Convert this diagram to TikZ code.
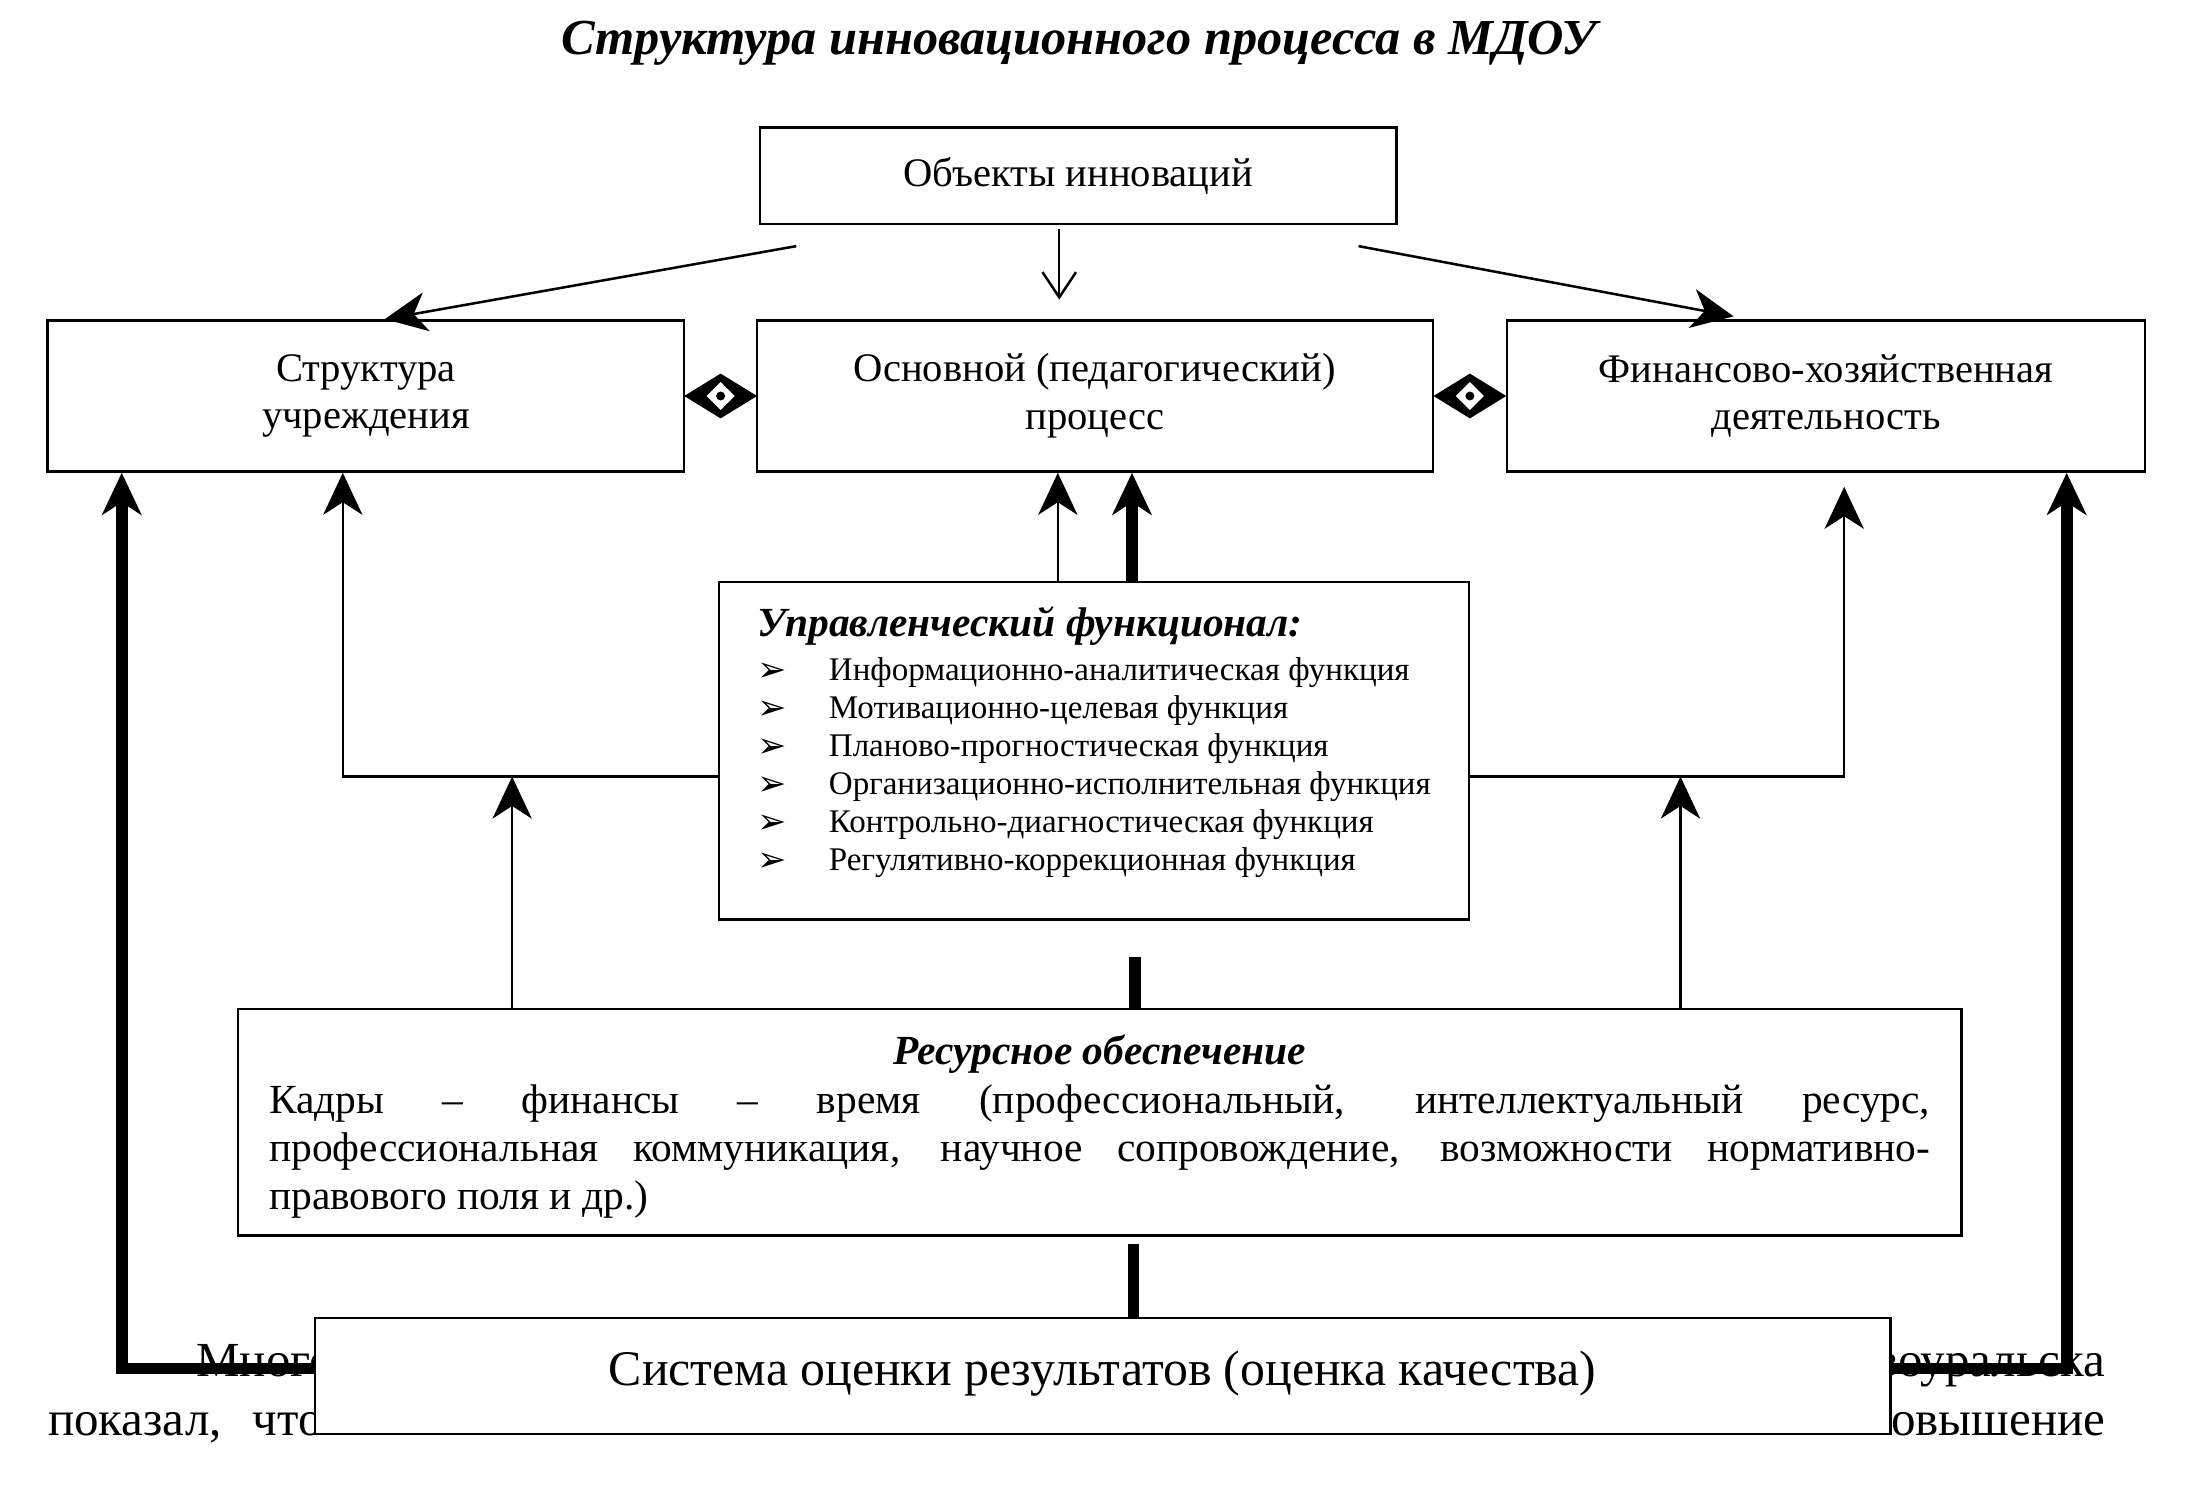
\documentclass[tikz,border=0pt]{standalone}
\usepackage{fontspec}
\setmainfont{Liberation Serif}
\newfontfamily\symfont{DejaVu Sans}
\usetikzlibrary{arrows.meta,calc}

\newcommand\fsz[2]{\fontsize{#1}{#2}\selectfont}
\newcommand\funcitem[1]{\makebox[25.5pt][l]{\raisebox{-0.3pt}{\symfont\fsz{12.5}{12.5}➢}}#1}

\begin{document}
\begin{tikzpicture}[x=0.5pt,y=-0.5pt,
  box/.style={draw,line width=0.9pt,fill=white,align=center,inner sep=0pt,font=\fsz{14.5}{17}},
  thin arrow/.style={line width=0.9pt,-{Stealth[length=15pt,width=14pt,inset=4.5pt]}},
  barb arrow/.style={line width=0.9pt,-{Straight Barb[length=9pt,width=12pt]}},
  thick arrow/.style={line width=4.2pt,-{Stealth[length=15pt,width=14pt,inset=4.5pt]}},
  thick line/.style={line width=4.2pt},
  fragment/.style={inner sep=0pt,font=\fsz{17.5}{20}},
  linkmark/.pic={
    \fill (-26,0) -- (0,-16) -- (26,0) -- (0,16) -- cycle;
    \fill[white] (-10,0) -- (0,-10) -- (10,0) -- (0,10) -- cycle;
    \fill (0,0) circle (1.6pt);
  }]
  \useasboundingbox (0,0) rectangle (1568,1066);

  % page text behind the last box
  \node[fragment,anchor=base west] (txta) at (140,984) {Многолетний};
  \node[fragment,anchor=base east] (txtb) at (1505,984) {Новоуральска};
  \node[fragment,anchor=base west] (txtc) at (34,1026) {показал,\hspace{11pt}что};
  \node[fragment,anchor=base east] (txtd) at (1505,1026) {повышение};

  \node[font=\fsz{18}{20}\bfseries\itshape] (title) at (771,31)
    {Структура инновационного процесса в МДОУ};

  \node[box,minimum width=227.5pt,minimum height=34.5pt] (obj) at (770.5,125.5)
    {Объекты инноваций};
  \node[box,minimum width=227.5pt,minimum height=54pt] (struct) at (261.5,283)
    {Структура\\учреждения};
  \node[box,minimum width=241.5pt,minimum height=54pt] (proc) at (782.5,283)
    {Основной (педагогический)\\процесс};
  \node[box,minimum width=228pt,minimum height=54pt] (fin) at (1305,283)
    {Финансово-хозяйственная\\деятельность};

  \node[box,align=left,minimum width=268pt,minimum height=120.5pt,
        font=\fsz{11.8}{13.6}] (upr) at (782,536.5)
    {{\fsz{14.8}{16}\bfseries\itshape Управленческий функционал:}\rule{0pt}{13pt}\\[2pt]
     \funcitem{Информационно-аналитическая функция}\\
     \funcitem{Мотивационно-целевая функция}\\
     \funcitem{Планово-прогностическая функция}\\
     \funcitem{Организационно-исполнительная функция}\\
     \funcitem{Контрольно-диагностическая функция}\\
     \funcitem{Регулятивно-коррекционная функция\rule[-11pt]{0pt}{1pt}}};

  \node[box,align=justify,text width=593.5pt,inner xsep=11.25pt,minimum height=81pt,
        font=\fsz{14.8}{17.25}] (res) at (786,802)
    {\hfill{\bfseries\itshape Ресурсное обеспечение}\rule{0pt}{14pt}\hfill\null\\
     Кадры – финансы – время (профессиональный, интеллектуальный ресурс,\linebreak
     профессиональная коммуникация, научное сопровождение, возможности нормативно-\linebreak
     правового поля и др.)};

  \node[box,minimum width=563pt,minimum height=41.5pt,font=\fsz{17.8}{20}] (sys) at (788,983.5)
    {Система оценки результатов (оценка качества)\rule[-6pt]{0pt}{1pt}};

  % from the objects
  \draw[thin arrow] ([shift={(27,15)}]obj.south west) -- ([shift={(13.5,0)}]struct.north);
  \draw[barb arrow,shorten <=1.5pt,shorten >=7pt] (757,0 |- obj.south) -- (757,0 |- proc.north);
  \draw[thin arrow] ([shift={(-28,15)}]obj.south east) -- ([shift={(-66,-2)}]fin.north);

  % links between the three fields
  \pic at ($(struct.east)!0.5!(proc.west)$) {linkmark};
  \pic at ($(proc.east)!0.5!(fin.west)$) {linkmark};

  % management functions
  \draw[thin arrow] (756,0 |- upr.north) -- (756,0 |- proc.south);
  \draw[thick arrow] (809,0 |- upr.north) -- (809,0 |- proc.south);
  \draw[thin arrow] (upr.west |- 0,555) -- (245,555) -- (245,0 |- struct.south);
  \draw[thin arrow,shorten >=5pt] (upr.east |- 0,555) -- (1318,555) -- (1318,0 |- fin.south);

  % resources
  \draw[thick line,shorten <=13pt] (811,0 |- upr.south) -- (811,0 |- res.north);
  \draw[thin arrow] (366,0 |- res.north) -- (366,555);
  \draw[thin arrow] (1201,0 |- res.north) -- (1201,555);
  \draw[thick line,shorten <=2.5pt] (810,0 |- res.south) -- (810,0 |- sys.north);

  % feedback from the evaluation
  \draw[thick arrow] (sys.west |- 0,978) -- (87,978) -- (87,0 |- struct.south);
  \draw[thick arrow] (sys.east |- 0,978) -- (1477,978) -- (1477,0 |- fin.south);
\end{tikzpicture}
\end{document}
